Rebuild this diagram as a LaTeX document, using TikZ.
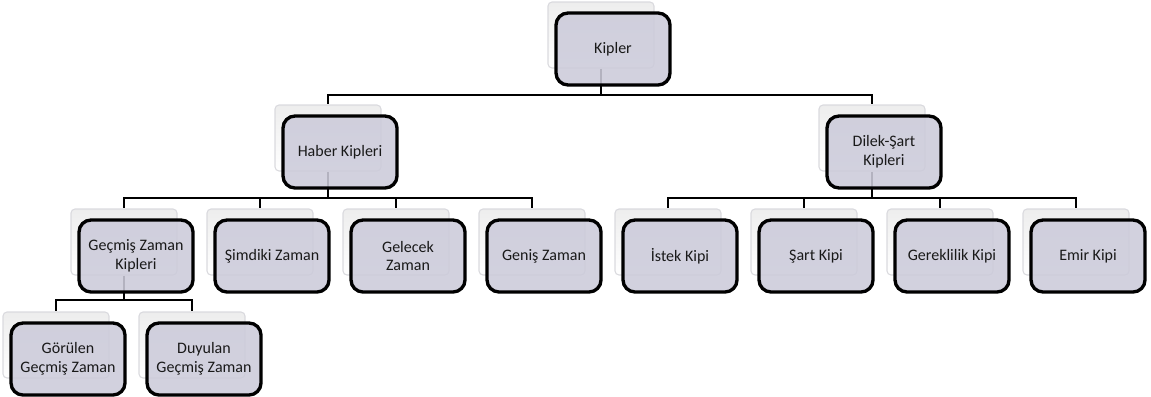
\documentclass[tikz,border=0pt]{standalone}
\usepackage{fontspec}
\setmainfont{Carlito}
\definecolor{boxfill}{RGB}{204,203,218}
\definecolor{cardline}{RGB}{218,218,222}
\tikzset{
  kip/.style={draw=black, line width=2.5pt, rounded corners=9pt, fill=boxfill, fill opacity=0.88, text opacity=1,
    minimum width=85.5pt, minimum height=54pt, align=center, font=\fontsize{12}{14}\selectfont, text=black!90},
  card/.style={draw=cardline, line width=0.8pt, rounded corners=3pt, top color=gray!14, bottom color=white,
    minimum width=79.5pt, minimum height=49.5pt},
  link/.style={draw=black, line width=2pt}
}
\begin{document}
\begin{tikzpicture}[x=0.75pt,y=-0.75pt]
\useasboundingbox (0,0) rectangle (1151,396);
% back cards
\node[card] (kiplerB) at (601,35) {};
\node[card] (haberB) at (328,138) {};
\node[card] (dilekB) at (872,138) {};
\node[card] (gecmisB) at (124,242) {};
\node[card] (simdikiB) at (260,242) {};
\node[card] (gelecekB) at (396,242) {};
\node[card] (genisB) at (532,242) {};
\node[card] (istekB) at (668,242) {};
\node[card] (sartB) at (804,242) {};
\node[card] (gereklilikB) at (940,242) {};
\node[card] (emirB) at (1076,242) {};
\node[card] (gorulenB) at (56,345) {};
\node[card] (duyulanB) at (192,345) {};
% bars
\coordinate (bar1) at (0,95);
\coordinate (bar2) at (0,198);
\coordinate (bar3) at (0,300);
\draw[link] (kiplerB.south) -- (kiplerB.south |- bar1) -| (haberB.north);
\draw[link] (kiplerB.south |- bar1) -| (dilekB.north);
\draw[link] (haberB.south) -- (haberB.south |- bar2) -| (gecmisB.north);
\draw[link] (haberB.south |- bar2) -| (simdikiB.north);
\draw[link] (haberB.south |- bar2) -| (gelecekB.north);
\draw[link] (haberB.south |- bar2) -| (genisB.north);
\draw[link] (dilekB.south) -- (dilekB.south |- bar2) -| (istekB.north);
\draw[link] (dilekB.south |- bar2) -| (sartB.north);
\draw[link] (dilekB.south |- bar2) -| (gereklilikB.north);
\draw[link] (dilekB.south |- bar2) -| (emirB.north);
\draw[link] (gecmisB.south) -- (gecmisB.south |- bar3) -| (gorulenB.north);
\draw[link] (gecmisB.south |- bar3) -| (duyulanB.north);
% boxes
\node[kip] (kipler) at (613,49) {Kipler};
\node[kip] (haber) at (340,152) {Haber Kipleri};
\node[kip] (dilek) at (884,152) {Dilek-Şart\\Kipleri};
\node[kip] (gecmis) at (136,256) {Geçmiş Zaman\\Kipleri};
\node[kip] (simdiki) at (272,256) {Şimdiki Zaman};
\node[kip] (gelecek) at (408,256) {Gelecek\\Zaman};
\node[kip] (genis) at (544,256) {Geniş Zaman};
\node[kip] (istek) at (680,256) {İstek Kipi};
\node[kip] (sart) at (816,256) {Şart Kipi};
\node[kip] (gereklilik) at (952,256) {Gereklilik Kipi};
\node[kip] (emir) at (1088,256) {Emir Kipi};
\node[kip] (gorulen) at (68,359) {Görülen\\Geçmiş Zaman};
\node[kip] (duyulan) at (204,359) {Duyulan\\Geçmiş Zaman};
\end{tikzpicture}
\end{document}
